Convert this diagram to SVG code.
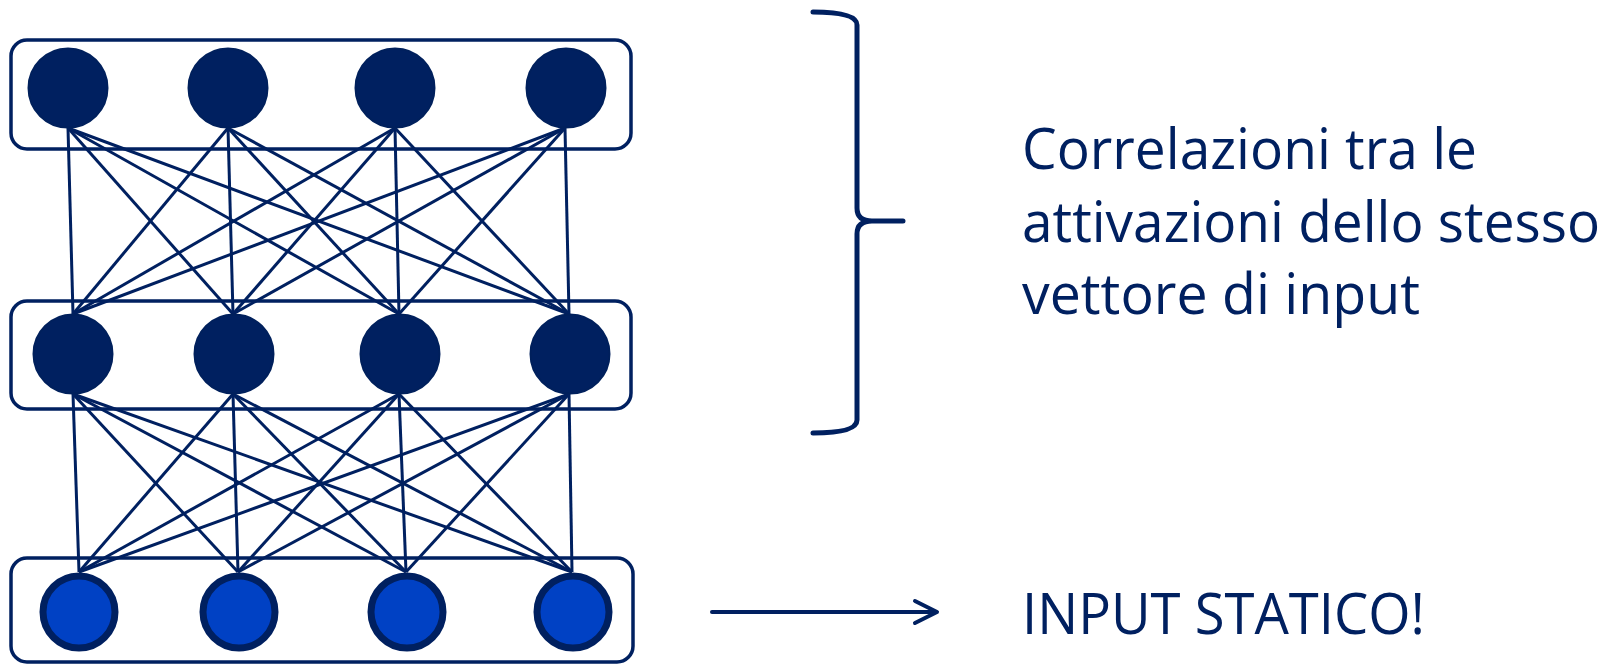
<svg xmlns="http://www.w3.org/2000/svg" width="1622" height="665" viewBox="0 0 1622 665">
<style>
.layer{fill:none;stroke:#002060;stroke-width:3.5}
.hid{fill:#002060;stroke:#00205c;stroke-width:2}
.inp{fill:#0041c4;stroke:#002060;stroke-width:7}
.conn line{stroke:#002060;stroke-width:3}
.txt{font-family:"Open Sans","Noto Sans",sans-serif;font-size:57px;fill:#002060}
</style>
<rect width="1622" height="665" fill="#ffffff"/>
<g id="connectors" class="conn">
<line x1="68" y1="128" x2="73" y2="314"/><line x1="68" y1="128" x2="233" y2="314"/><line x1="68" y1="128" x2="399" y2="314"/><line x1="68" y1="128" x2="569" y2="314"/>
<line x1="228" y1="128" x2="73" y2="314"/><line x1="228" y1="128" x2="233" y2="314"/><line x1="228" y1="128" x2="399" y2="314"/><line x1="228" y1="128" x2="569" y2="314"/>
<line x1="395" y1="128" x2="73" y2="314"/><line x1="395" y1="128" x2="233" y2="314"/><line x1="395" y1="128" x2="399" y2="314"/><line x1="395" y1="128" x2="569" y2="314"/>
<line x1="565" y1="128" x2="73" y2="314"/><line x1="565" y1="128" x2="233" y2="314"/><line x1="565" y1="128" x2="399" y2="314"/><line x1="565" y1="128" x2="569" y2="314"/>
<line x1="73" y1="394" x2="79" y2="572"/><line x1="73" y1="394" x2="238" y2="572"/><line x1="73" y1="394" x2="406" y2="572"/><line x1="73" y1="394" x2="572" y2="572"/>
<line x1="233" y1="394" x2="79" y2="572"/><line x1="233" y1="394" x2="238" y2="572"/><line x1="233" y1="394" x2="406" y2="572"/><line x1="233" y1="394" x2="572" y2="572"/>
<line x1="399" y1="394" x2="79" y2="572"/><line x1="399" y1="394" x2="238" y2="572"/><line x1="399" y1="394" x2="406" y2="572"/><line x1="399" y1="394" x2="572" y2="572"/>
<line x1="569" y1="394" x2="79" y2="572"/><line x1="569" y1="394" x2="238" y2="572"/><line x1="569" y1="394" x2="406" y2="572"/><line x1="569" y1="394" x2="572" y2="572"/>
</g>
<g id="layer-top"><rect class="layer" x="11" y="40" width="620" height="109" rx="16"/></g>
<g id="layer-mid"><rect class="layer" x="11" y="301" width="620" height="108" rx="16"/></g>
<g id="layer-in"><rect class="layer" x="11" y="558" width="622" height="104" rx="16"/></g>
<g id="h1-1"><circle class="hid" cx="68" cy="88" r="39.5"/></g>
<g id="h1-2"><circle class="hid" cx="228" cy="88" r="39.5"/></g>
<g id="h1-3"><circle class="hid" cx="395" cy="88" r="39.5"/></g>
<g id="h1-4"><circle class="hid" cx="566" cy="88" r="39.5"/></g>
<g id="h2-1"><circle class="hid" cx="73" cy="354" r="39.5"/></g>
<g id="h2-2"><circle class="hid" cx="234" cy="354" r="39.5"/></g>
<g id="h2-3"><circle class="hid" cx="400" cy="354" r="39.5"/></g>
<g id="h2-4"><circle class="hid" cx="570" cy="354" r="39.5"/></g>
<g id="in-1"><circle class="inp" cx="79" cy="612" r="36"/></g>
<g id="in-2"><circle class="inp" cx="239" cy="612" r="36"/></g>
<g id="in-3"><circle class="inp" cx="407" cy="612" r="36"/></g>
<g id="in-4"><circle class="inp" cx="573" cy="612" r="36"/></g>
<g id="brace"><path d="M813,12 Q857,12 857,25 L857,208 Q857,221 872,221 L903,221 M872,221 Q857,221 857,234 L857,420 Q857,433 813,433" fill="none" stroke="#002060" stroke-width="5" stroke-linecap="round" stroke-linejoin="round"/></g>
<g id="arrow" fill="none" stroke="#002060" stroke-width="4" stroke-linecap="round" stroke-linejoin="round"><line x1="712" y1="612" x2="935" y2="612"/><polyline points="915,601 937,612 915,623"/></g>
<g id="label-corr" class="txt">
<text x="1022" y="169" textLength="455" lengthAdjust="spacingAndGlyphs">Correlazioni tra le</text>
<text x="1022" y="242" textLength="578" lengthAdjust="spacingAndGlyphs">attivazioni dello stesso</text>
<text x="1022" y="314" textLength="398" lengthAdjust="spacingAndGlyphs">vettore di input</text>
</g>
<g id="label-input" class="txt"><text x="1022" y="634" textLength="403" lengthAdjust="spacingAndGlyphs">INPUT STATICO!</text></g>
</svg>
